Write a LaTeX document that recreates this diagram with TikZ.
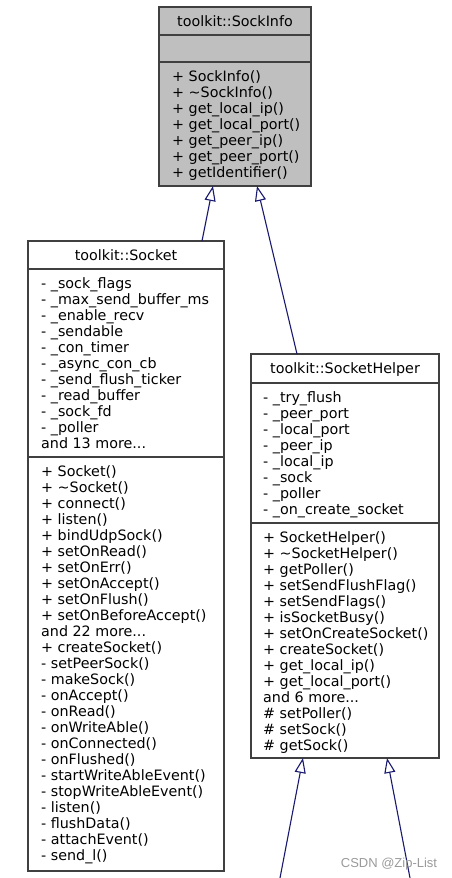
\documentclass[tikz,border=0pt]{standalone}
\usepackage{fontspec}
\setmainfont{DejaVu Sans}
\newfontfamily\wmfont{Liberation Sans}
\usetikzlibrary{arrows.meta}
\definecolor{edgec}{HTML}{191970}
\definecolor{borderc}{HTML}{404040}
\definecolor{fillc}{HTML}{BFBFBF}
\definecolor{wmc}{HTML}{9A9A9A}
\newcommand{\mythreedots}{...}
\begin{document}
\begin{tikzpicture}[x=1pt,y=-1pt,
  classbox/.style={draw=borderc, line width=1.2pt, fill=white, rectangle, inner sep=0pt, outer sep=0pt, anchor=north west},
  txt/.style={inner sep=0pt, anchor=base west, font=\fontsize{14.3}{16}\selectfont},
  ttl/.style={inner sep=0pt, anchor=base, font=\fontsize{14.3}{16}\selectfont},
  sepline/.style={draw=borderc, line width=1.2pt},
  inh/.style={draw=edgec, line width=1.1pt, -{Triangle[open, length=15pt, width=11pt, fill=white]}}
]
\useasboundingbox (0,0) rectangle (452,878);

% ---------- toolkit::SockInfo ----------
\node[classbox, fill=fillc, minimum width=152pt, minimum height=179pt] (sockinfo) at (159,7) {};
\draw[sepline] (sockinfo.west |- 0,35) -- (sockinfo.east |- 0,35);
\draw[sepline] (sockinfo.west |- 0,62) -- (sockinfo.east |- 0,62);
\node[ttl] (sockinfo-t) at (235,26) {toolkit::SockInfo};
\foreach \t [count=\i from 0] in {%
  + SockInfo(),
  + \textasciitilde{}SockInfo(),
  + get\_local\_ip(),
  + get\_local\_port(),
  + get\_peer\_ip(),
  + get\_peer\_port(),
  + getIdentifier()}
  \node[txt] (sockinfo-m\i) at (172,{81+16*\i}) {\t};

% ---------- toolkit::Socket ----------
\node[classbox, minimum width=196pt, minimum height=630pt] (socket) at (28,241) {};
\draw[sepline] (socket.west |- 0,269) -- (socket.east |- 0,269);
\draw[sepline] (socket.west |- 0,457) -- (socket.east |- 0,457);
\node[ttl] (socket-t) at (126,260) {toolkit::Socket};
\foreach \t [count=\i from 0] in {%
  - \_sock\_flags,
  - \_max\_send\_buffer\_ms,
  - \_enable\_recv,
  - \_sendable,
  - \_con\_timer,
  - \_async\_con\_cb,
  - \_send\_flush\_ticker,
  - \_read\_buffer,
  - \_sock\_fd,
  - \_poller,
  and 13 more\mythreedots}
  \node[txt] (socket-a\i) at (41,{288+16*\i}) {\t};
\foreach \t [count=\i from 0] in {%
  + Socket(),
  + \textasciitilde{}Socket(),
  + connect(),
  + listen(),
  + bindUdpSock(),
  + setOnRead(),
  + setOnErr(),
  + setOnAccept(),
  + setOnFlush(),
  + setOnBeforeAccept(),
  and 22 more\mythreedots,
  + createSocket(),
  - setPeerSock(),
  - makeSock(),
  - onAccept(),
  - onRead(),
  - onWriteAble(),
  - onConnected(),
  - onFlushed(),
  - startWriteAbleEvent(),
  - stopWriteAbleEvent(),
  - listen(),
  - flushData(),
  - attachEvent(),
  - send\_l()}
  \node[txt] (socket-m\i) at (41,{476+16*\i}) {\t};

% ---------- toolkit::SocketHelper ----------
\node[classbox, minimum width=188pt, minimum height=404pt] (helper) at (251,354) {};
\draw[sepline] (helper.west |- 0,383) -- (helper.east |- 0,383);
\draw[sepline] (helper.west |- 0,523) -- (helper.east |- 0,523);
\node[ttl] (helper-t) at (345,373) {toolkit::SocketHelper};
\foreach \t [count=\i from 0] in {%
  - \_try\_flush,
  - \_peer\_port,
  - \_local\_port,
  - \_peer\_ip,
  - \_local\_ip,
  - \_sock,
  - \_poller,
  - \_on\_create\_socket}
  \node[txt] (helper-a\i) at (263,{402+16*\i}) {\t};
\foreach \t [count=\i from 0] in {%
  + SocketHelper(),
  + \textasciitilde{}SocketHelper(),
  + getPoller(),
  + setSendFlushFlag(),
  + setSendFlags(),
  + isSocketBusy(),
  + setOnCreateSocket(),
  + createSocket(),
  + get\_local\_ip(),
  + get\_local\_port(),
  and 6 more\mythreedots,
  \# setPoller(),
  \# setSock(),
  \# getSock()}
  \node[txt] (helper-m\i) at (263,{542+16*\i}) {\t};

% ---------- inheritance connectors ----------
\draw[inh] ([xshift=174pt]socket.north west) -- ([xshift=54pt]sockinfo.south west);
\draw[inh] ([xshift=46pt]helper.north west) -- ([xshift=98pt]sockinfo.south west);
\coordinate (d1) at (280,878);
\coordinate (d2) at (410,878);
\draw[inh] (d1) -- ([xshift=52pt]helper.south west);
\draw[inh] (d2) -- ([xshift=136pt]helper.south west);

% ---------- watermark ----------
\node[font=\wmfont\fontsize{13}{13}\selectfont, text=wmc, anchor=base, inner sep=0pt] (wm) at (389,867) {CSDN @Zip-List};
\end{tikzpicture}
\end{document}
